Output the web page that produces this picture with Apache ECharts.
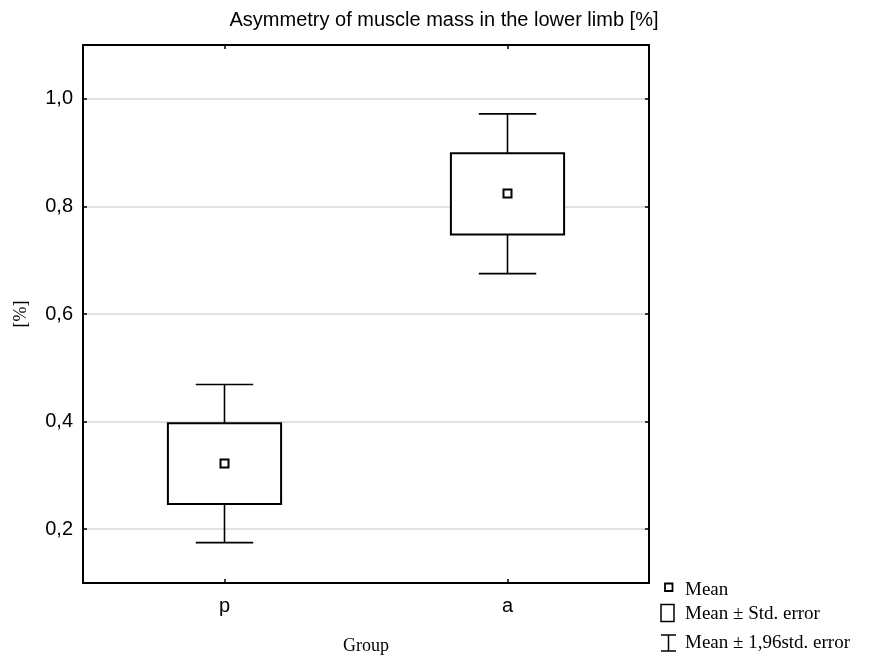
<!DOCTYPE html>
<html>
<head>
<meta charset="utf-8">
<script src="https://cdn.jsdelivr.net/npm/echarts@6/dist/echarts.min.js"></script>
<style>
  html, body { margin: 0; padding: 0; background: #fff; }
  #chart { width: 876px; height: 660px; }
</style>
</head>
<body>
<div id="chart"></div>
<script>
// ---- data ----
const categories = ['p', 'a'];
const means  = [0.322, 0.824];
const seLow  = [0.247, 0.748];   // Mean - Std. error
const seHigh = [0.397, 0.899];   // Mean + Std. error
const ciLow  = [0.175, 0.675];   // Mean - 1,96 std. error
const ciHigh = [0.469, 0.972];   // Mean + 1,96 std. error
const tickLabels = ['0,2', '0,4', '0,6', '0,8', '1,0'];
const titleText = 'Asymmetry of muscle mass in the lower limb [%]';
const xName = 'Group';
const yName = '[%]';
const legendTexts = ['Mean', 'Mean \u00B1 Std. error', 'Mean \u00B1 1,96std. error'];

const boxData = categories.map((c, i) => [i, ciLow[i], seLow[i], means[i], seHigh[i], ciHigh[i]]);
const meanData = categories.map((c, i) => [i, means[i]]);

const chart = echarts.init(document.getElementById('chart'), null, { renderer: 'canvas' });

const sans = 'Liberation Sans, Arial, sans-serif';
const serif = 'Liberation Serif, Times New Roman, serif';

function fmtY(v) {
  const s = (Math.round(v * 10) / 10).toFixed(1).replace('.', ',');
  return tickLabels.includes(s) ? s : '';
}

const axisLineStyle = { show: true, lineStyle: { color: '#000', width: 2 } };
const tickStyle = { show: true, inside: true, length: 4, lineStyle: { color: '#000', width: 1.5 } };

function renderBox(params, api) {
  const idx = api.value(0);
  const band = api.size([1, 0])[0];
  const boxW = band * 0.40;
  const capW = band * 0.203;
  const pLoW = api.coord([idx, api.value(1)]);
  const pLoB = api.coord([idx, api.value(2)]);
  const pHiB = api.coord([idx, api.value(4)]);
  const pHiW = api.coord([idx, api.value(5)]);
  const cx = pLoW[0];
  const lineSt = { stroke: '#000', lineWidth: 1.6 };
  return {
    type: 'group',
    children: [
      { type: 'line', shape: { x1: cx, y1: pHiW[1], x2: cx, y2: pHiB[1] }, style: lineSt },
      { type: 'line', shape: { x1: cx - capW / 2, y1: pHiW[1], x2: cx + capW / 2, y2: pHiW[1] }, style: lineSt },
      { type: 'line', shape: { x1: cx, y1: pLoB[1], x2: cx, y2: pLoW[1] }, style: lineSt },
      { type: 'line', shape: { x1: cx - capW / 2, y1: pLoW[1], x2: cx + capW / 2, y2: pLoW[1] }, style: lineSt },
      { type: 'rect', shape: { x: cx - boxW / 2, y: pHiB[1], width: boxW, height: pLoB[1] - pHiB[1] },
        style: { fill: '#fff', stroke: '#000', lineWidth: 2 } }
    ]
  };
}

const option = {
  backgroundColor: '#fff',
  animation: false,
  grid: { left: 83, right: 227, top: 45, bottom: 74, containLabel: false },
  xAxis: [
    {
      type: 'category', data: categories, position: 'bottom', boundaryGap: true,
      axisLine: axisLineStyle,
      axisTick: Object.assign({ alignWithLabel: true }, tickStyle),
      axisLabel: { color: '#000', fontFamily: sans, fontSize: 20, margin: 13 },
      splitLine: { show: false },
      name: xName, nameLocation: 'middle', nameGap: 54,
      nameTextStyle: { color: '#000', fontFamily: serif, fontSize: 18 }
    },
    {
      type: 'category', data: categories, position: 'top', boundaryGap: true,
      axisLine: axisLineStyle,
      axisTick: Object.assign({ alignWithLabel: true }, tickStyle),
      axisLabel: { show: false },
      splitLine: { show: false }
    }
  ],
  yAxis: [
    {
      type: 'value', min: 0.1, max: 1.1, position: 'left',
      axisLine: axisLineStyle,
      axisTick: tickStyle,
      axisLabel: { color: '#000', fontFamily: sans, fontSize: 20, margin: 10, formatter: fmtY },
      splitLine: { show: true, lineStyle: { color: '#d8d8d8', width: 1.5 } },
      name: yName, nameLocation: 'middle', nameGap: 53, nameRotate: 90,
      nameTextStyle: { color: '#000', fontFamily: serif, fontSize: 18 }
    },
    {
      type: 'value', min: 0.1, max: 1.1, position: 'right',
      axisLine: axisLineStyle,
      axisTick: tickStyle,
      axisLabel: { show: false },
      splitLine: { show: false }
    }
  ],
  series: [
    {
      type: 'custom', xAxisIndex: 0, yAxisIndex: 0,
      renderItem: renderBox, data: boxData, z: 2,
      encode: { x: 0, y: [1, 2, 3, 4, 5] }
    },
    {
      type: 'scatter', xAxisIndex: 0, yAxisIndex: 0, data: meanData, z: 3,
      symbol: 'rect', symbolSize: 8,
      itemStyle: { color: '#fff', borderColor: '#000', borderWidth: 2, opacity: 1 }
    }
  ],
  graphic: [
    { type: 'text', x: 444, y: 20, z: 10,
      style: { text: titleText, fill: '#000', font: '20px ' + sans, textAlign: 'center', textVerticalAlign: 'middle' } },
    // legend
    { type: 'rect', shape: { x: 665, y: 583.5, width: 7.5, height: 7.5 },
      style: { fill: '#fff', stroke: '#000', lineWidth: 1.8 } },
    { type: 'text', x: 685, y: 590,
      style: { text: legendTexts[0], fill: '#000', font: '19px ' + serif, textAlign: 'left', textVerticalAlign: 'middle' } },
    { type: 'rect', shape: { x: 661, y: 604.5, width: 13, height: 17 },
      style: { fill: '#fff', stroke: '#000', lineWidth: 1.5 } },
    { type: 'text', x: 685, y: 614,
      style: { text: legendTexts[1], fill: '#000', font: '19px ' + serif, textAlign: 'left', textVerticalAlign: 'middle' } },
    { type: 'line', shape: { x1: 661, y1: 635, x2: 676, y2: 635 }, style: { stroke: '#000', lineWidth: 1.5 } },
    { type: 'line', shape: { x1: 668.5, y1: 635, x2: 668.5, y2: 651 }, style: { stroke: '#000', lineWidth: 1.5 } },
    { type: 'line', shape: { x1: 661, y1: 651, x2: 676, y2: 651 }, style: { stroke: '#000', lineWidth: 1.5 } },
    { type: 'text', x: 685, y: 643,
      style: { text: legendTexts[2], fill: '#000', font: '19px ' + serif, textAlign: 'left', textVerticalAlign: 'middle' } }
  ]
};

chart.setOption(option);
</script>
</body>
</html>
